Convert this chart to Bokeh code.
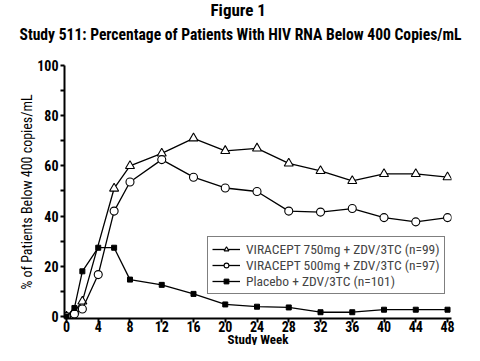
from bokeh.plotting import figure
from bokeh.models import Range1d, Title, FixedTicker, Legend, LegendItem
from bokeh.embed import file_html
from bokeh.resources import INLINE

# VIRACEPT 750mg series (no marker drawn at week 4 in the original)
weeks_750 = [0, 1, 2, 6, 8, 12, 16, 20, 24, 28, 32, 36, 40, 44, 48]
v750 = [0, 2, 6, 51, 60, 65, 71, 66, 67, 61, 58, 54, 56.8, 56.8, 55.5]
weeks = [0, 1, 2, 4, 6, 8, 12, 16, 20, 24, 28, 32, 36, 40, 44, 48]
v500 = [0, 1, 3, 16.7, 42, 53.6, 62.5, 55.5, 51.2, 49.8, 42, 41.6, 43, 39.4, 37.7, 39.4]
placebo = [0, 3.4, 18, 27.4, 27.4, 14.7, 12.6, 9, 4.8, 3.9, 3.6, 1.7, 1.7, 2.7, 2.7, 2.7]
labels = ["VIRACEPT 750mg + ZDV/3TC (n=99)",
          "VIRACEPT 500mg + ZDV/3TC (n=97)",
          "Placebo + ZDV/3TC (n=101)"]
x_ticks = list(range(0, 49, 4))
y_ticks = [0, 20, 40, 60, 80, 100]

FONT = "Roboto Condensed"

p = figure(width=464, height=345, output_backend="svg", toolbar_location=None,
           x_range=Range1d(-0.25, 48.5), y_range=Range1d(-0.8, 100),
           min_border_left=0, min_border_right=0, min_border_top=0,
           min_border_bottom=0)
p.outline_line_color = None
p.xgrid.visible = False
p.ygrid.visible = False
p.background_fill_color = "white"
p.border_fill_color = "white"

# top: spacer (nearest the plot), subtitle, title
spacer_top = Title(text=" ", text_font_size="1px", standoff=11)
t2 = Title(text="Study 511: Percentage of Patients With HIV RNA Below 400 Copies/mL",
           align="left", offset=-45, text_font=FONT, text_font_size="15.6px",
           text_font_style="bold", text_color="black", standoff=15)
t1 = Title(text="Figure 1", align="left", offset=146, text_font=FONT,
           text_font_size="17px", text_font_style="bold", text_color="black",
           standoff=-6)
p.add_layout(spacer_top, "above")
p.add_layout(t2, "above")
p.add_layout(t1, "above")

# blank padding panels on the left and right
p.add_layout(Title(text=" ", text_font_size="1px", standoff=13), "left")
p.add_layout(Title(text=" ", text_font_size="1px", standoff=10), "right")

# x-axis title below the tick labels
xt = Title(text="Study Week", align="center", vertical_align="top", text_font=FONT,
           text_font_size="13px", text_font_style="bold", text_color="black",
           standoff=-6)
p.add_layout(xt, "below")

r1l = p.line(weeks_750, v750, line_color="black", line_width=1.3)
r1m = p.scatter(weeks_750, v750, marker="triangle", size=9, fill_color="white",
                line_color="black", line_width=1.1)
r2l = p.line(weeks, v500, line_color="black", line_width=1.3)
r2m = p.scatter(weeks, v500, marker="circle", size=8, fill_color="white",
                line_color="black", line_width=1.1)
r3l = p.line(weeks, placebo, line_color="black", line_width=1.3)
r3m = p.scatter(weeks, placebo, marker="square", size=5, fill_color="black",
                line_color="black")

legend = Legend(items=[LegendItem(label=labels[0], renderers=[r1l, r1m]),
                       LegendItem(label=labels[1], renderers=[r2l, r2m]),
                       LegendItem(label=labels[2], renderers=[r3l, r3m])],
                location=(143, 24), border_line_color="black", border_line_width=1.5,
                label_text_font=FONT, label_text_font_size="13.5px",
                label_height=12, glyph_height=12, glyph_width=28, spacing=0,
                padding=4, margin=0, label_standoff=6, background_fill_alpha=1)
p.add_layout(legend, "center")

for ax in (p.xaxis[0], p.yaxis[0]):
    ax.axis_line_width = 2
    ax.axis_line_color = "black"
    ax.major_tick_line_color = "black"
    ax.major_tick_line_width = 2
    ax.major_tick_in = 0
    ax.major_tick_out = 4
    ax.major_label_text_font = FONT
    ax.major_label_text_font_style = "bold"
    ax.major_label_text_font_size = "14px"
    ax.major_label_text_color = "black"
    ax.axis_label_text_font = FONT
    ax.axis_label_text_color = "black"

p.xaxis.ticker = FixedTicker(ticks=x_ticks)
p.xaxis.minor_tick_line_color = None
p.xaxis.major_label_standoff = -2

p.yaxis.ticker = FixedTicker(ticks=y_ticks, minor_ticks=list(range(10, 100, 20)))
p.yaxis.minor_tick_line_color = "black"
p.yaxis.minor_tick_line_width = 2
p.yaxis.minor_tick_in = 0
p.yaxis.minor_tick_out = 4
p.yaxis.major_label_standoff = 2
p.yaxis.axis_label = "% of Patients Below 400 copies/mL"
p.yaxis.axis_label_text_font_style = "normal"
p.yaxis.axis_label_text_font_size = "14px"
p.yaxis.axis_label_standoff = -1

open("out.html", "w").write(file_html(p, INLINE))
